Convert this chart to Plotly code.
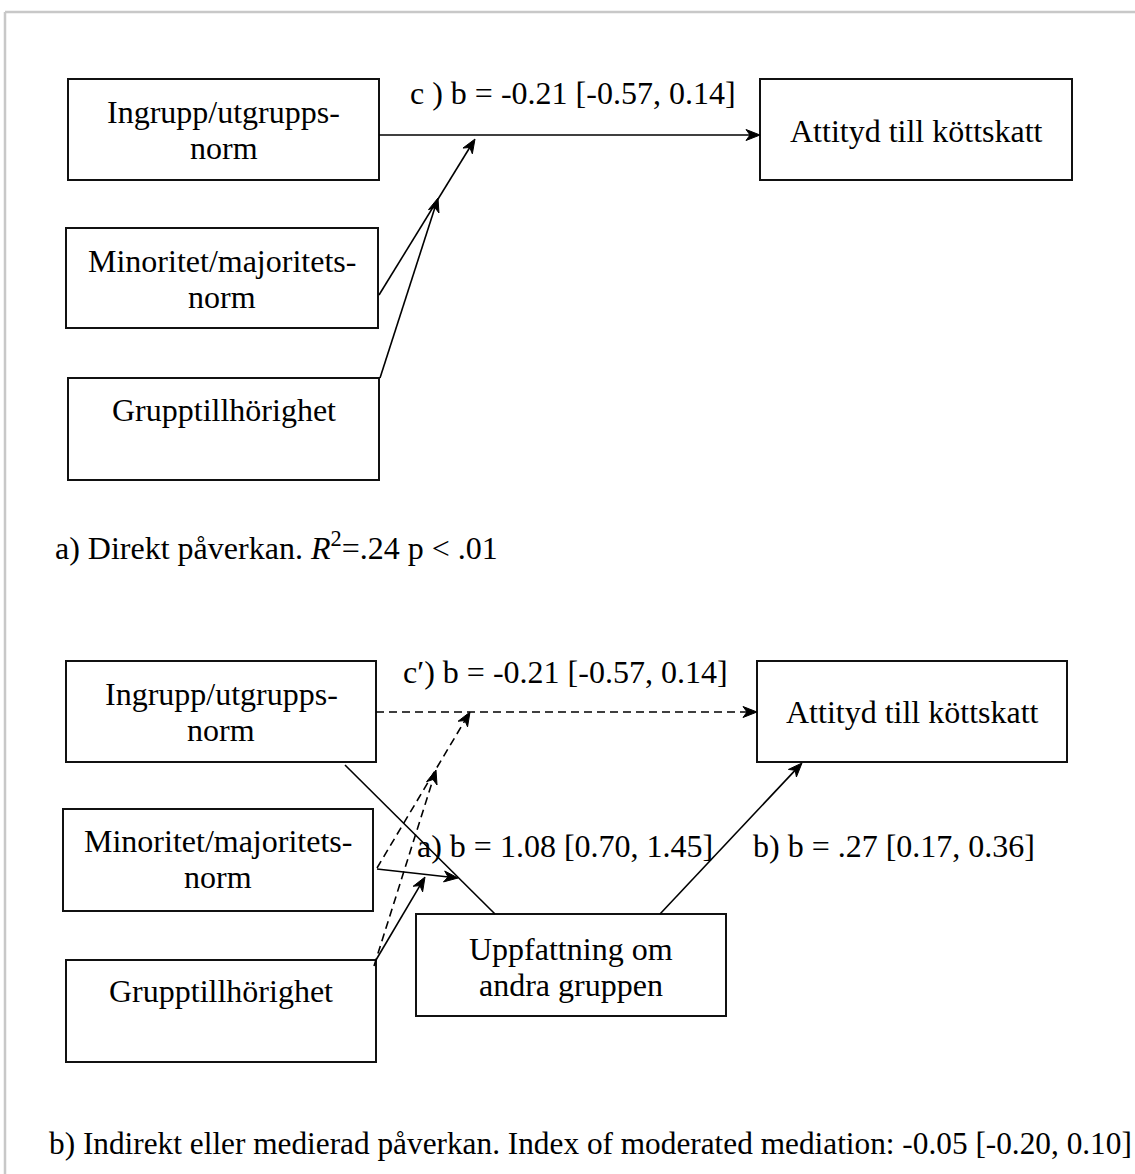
import math
import plotly.graph_objects as go

# ---------------- text content ----------------
predictor_lines = [["Ingrupp/utgrupps-", "norm"],
                   ["Minoritet/majoritets-", "norm"],
                   ["Grupptillhörighet"]]
outcome_lines = ["Attityd till köttskatt"]
mediator_lines = ["Uppfattning om", "andra gruppen"]
direct_path_label = "c ) b = -0.21 [-0.57, 0.14]"
indirect_path_labels = ["c′) b = -0.21 [-0.57, 0.14]",
                        "a) b = 1.08 [0.70, 1.45]",
                        "b) b = .27 [0.17, 0.36]"]
caption_a = "a) Direkt påverkan. <i>R</i><sup>2</sup>=.24 p &lt; .01"
caption_b = "b) Indirekt eller medierad påverkan. Index of moderated mediation: -0.05 [-0.20, 0.10]"

# ---------------- layout geometry (pixels) ----------------
W, H = 1135, 1174
FONT = "Liberation Serif, Times New Roman, serif"
FS = 32

# boxes: (x0, y0, x1, y1, first-line y, lines)
top_boxes = [
    (68, 79, 379, 180, 112, predictor_lines[0]),
    (66, 228, 378, 328, 261, predictor_lines[1]),
    (68, 378, 379, 480, 410, predictor_lines[2]),
    (760, 79, 1072, 180, 131, outcome_lines),
]
bottom_boxes = [
    (66, 661, 376, 762, 694, predictor_lines[0]),
    (63, 809, 373, 911, 841, predictor_lines[1]),
    (66, 960, 376, 1062, 991, predictor_lines[2]),
    (757, 661, 1067, 762, 712, outcome_lines),
    (416, 914, 726, 1016, 949, mediator_lines),
]

# arrows: (x0, y0, x1, y1, dashed, head)
arrows = [
    (379, 135, 760, 135, False, True),
    (379, 295, 475, 139, False, True),
    (380, 378, 438, 198, False, True),
    (376, 712, 757, 712, True, True),
    (377, 868, 470, 712, True, True),
    (374, 966, 436, 770, True, True),
    (345, 765, 495, 914, False, False),
    (377, 869, 458, 878, False, True),
    (376, 960, 425, 877, False, True),
    (660, 914, 802, 763, False, True),
]

HEAD_L, HEAD_W, HEAD_N = 14, 5.5, 10

shapes = []
annotations = []

# page frame
shapes.append(dict(type="line", x0=5, y0=12, x1=W + 5, y1=12,
                   line=dict(color="#c8c8c8", width=2.5)))
shapes.append(dict(type="line", x0=5, y0=12, x1=5, y1=H + 5,
                   line=dict(color="#c8c8c8", width=2.5)))

LINE_GAP = 36
for (x0, y0, x1, y1, ty, lines) in top_boxes + bottom_boxes:
    shapes.append(dict(type="rect", x0=x0, y0=y0, x1=x1, y1=y1,
                       line=dict(color="#111111", width=2), fillcolor="white"))
    cx = (x0 + x1) / 2
    for i, t in enumerate(lines):
        annotations.append(dict(x=cx, y=ty + i * LINE_GAP, text=t, showarrow=False,
                                xanchor="center", yanchor="middle",
                                font=dict(family=FONT, size=FS, color="black")))

for (x0, y0, x1, y1, dashed, head) in arrows:
    L = math.hypot(x1 - x0, y1 - y0)
    ux, uy = (x1 - x0) / L, (y1 - y0) / L
    nx, ny = -uy, ux
    ex, ey = (x1 - ux * 5, y1 - uy * 5) if head else (x1, y1)
    shapes.append(dict(type="line", x0=x0, y0=y0, x1=ex, y1=ey,
                       line=dict(color="black", width=1.6,
                                 dash="8px,5px" if dashed else "solid")))
    if head:
        bx, by = x1 - ux * HEAD_L, y1 - uy * HEAD_L
        mx, my = x1 - ux * HEAD_N, y1 - uy * HEAD_N
        path = (f"M {x1:.2f},{y1:.2f} L {bx + nx * HEAD_W:.2f},{by + ny * HEAD_W:.2f} "
                f"L {mx:.2f},{my:.2f} L {bx - nx * HEAD_W:.2f},{by - ny * HEAD_W:.2f} Z")
        shapes.append(dict(type="path", path=path, fillcolor="black",
                           line=dict(color="black", width=1)))

# path labels
annotations.append(dict(x=573, y=93, text=direct_path_label, showarrow=False,
                        font=dict(family=FONT, size=FS, color="black")))
for (x, y), t in zip([(565, 672), (565, 846), (894, 846)], indirect_path_labels):
    annotations.append(dict(x=x, y=y, text=t, showarrow=False,
                            font=dict(family=FONT, size=FS, color="black")))

# captions
annotations.append(dict(x=53, y=546, text=caption_a, showarrow=False, xanchor="left",
                        font=dict(family=FONT, size=FS, color="black")))
annotations.append(dict(x=47, y=1143, text=caption_b, showarrow=False, xanchor="left",
                        font=dict(family=FONT, size=31.3, color="black")))

fig = go.Figure()
fig.update_layout(
    width=W, height=H,
    margin=dict(l=0, r=0, t=0, b=0, pad=0),
    paper_bgcolor="white", plot_bgcolor="white",
    xaxis=dict(range=[0, W], visible=False, fixedrange=True),
    yaxis=dict(range=[H, 0], visible=False, fixedrange=True),
    shapes=shapes, annotations=annotations, showlegend=False,
)

fig.write_html("out.html", config={"displayModeBar": False},
               post_script="document.body.style.margin='0';document.body.style.overflow='hidden';")
